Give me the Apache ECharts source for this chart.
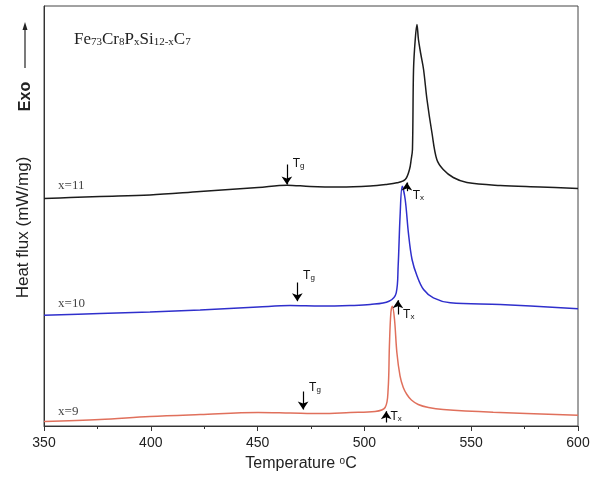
<!DOCTYPE html>
<html>
<head>
<meta charset="utf-8">
<script src="https://cdn.jsdelivr.net/npm/echarts@6/dist/echarts.min.js"></script>
<style>
html,body{margin:0;padding:0;background:#fff;}
#c{width:595px;height:479px;}
</style>
</head>
<body>
<div id="c"></div>
<script>
// ---- data (temperature °C, heat flux in arbitrary units) ----
const t11 = [350, 362.2, 376.2, 399.6, 423.1, 450.2, 463.8, 474.6, 488.6, 502.7, 510, 515.2, 519.1, 521.1, 521.9, 522.5, 523.0, 523.8, 524.6, 525.3, 526.4, 527.7, 529.3, 531.6, 533.9, 536.9, 541.6, 548.0, 563.6, 582.3, 600];
const f11 = [227.5, 228.5, 229.5, 231, 234.5, 238.5, 240.8, 239.5, 239, 240, 241.5, 243.2, 246.5, 256.5, 266.5, 276.5, 356.5, 386.5, 401.5, 386.5, 372, 356.5, 326.5, 293.5, 266.5, 256.5, 248.5, 243.5, 240.5, 239, 237.5];

const t10 = [350, 376.2, 399.6, 423.1, 450.2, 465.2, 479.7, 493.3, 502.7, 511.5, 514.9, 515.8, 516.7, 517.7, 519.1, 520.6, 522.3, 524.7, 527.7, 532.3, 540.2, 563.6, 600];
const f10 = [110.8, 112.5, 114, 116, 119, 120.5, 120, 120.5, 121.5, 124.8, 133.2, 159.8, 209.8, 239.8, 226.5, 193.2, 166.5, 149.8, 136.5, 128.2, 123.2, 121.5, 117.2];

const t9 = [350, 376.2, 399.6, 423.1, 450.2, 465.2, 479.7, 493.3, 505.0, 509.7, 511.1, 511.7, 512.4, 513.1, 514.1, 515.2, 516.7, 518.2, 519.9, 522.0, 525.2, 530.0, 536.9, 560.3, 600];
const f9 = [4.5, 6.5, 9.5, 11.5, 13.5, 13, 12.5, 13.5, 14.5, 18.5, 36.5, 79.5, 113.5, 119.8, 106.5, 73.5, 49.8, 38.5, 31.5, 26, 21.5, 18.5, 16.5, 13.8, 10.8];

const seriesNames = ['x=11', 'x=10', 'x=9'];
const seriesColors = ['#1c1c1c', '#2f2fcc', '#e0705c'];
const nameLabelPos = [[356.6, 240.5], [356.6, 122.5], [356.6, 14.5]];

// Tg arrows (pointing down) and Tx arrows (pointing up)
const tgTemp = [463.7, 468.6, 471.3];
const tgFrom = [261.5, 143.5, 34.5];
const tgTo = [241.5, 124.8, 16.5];
const tgLabel = [[466.4, 263.5], [471.3, 151.5], [474.1, 39.5]];

const txTemp = [519.9, 515.7, 510.2];
const txFrom = [234.8, 111.5, 3.5];
const txTo = [243.5, 125.8, 14.8];
const txLabel = [[522.6, 231.5], [518.1, 112.5], [512.2, 10.5]];

const xTicks = [350, 400, 450, 500, 550, 600];

const temps = [t11, t10, t9];
const fluxes = [f11, f10, f9];

const chart = echarts.init(document.getElementById('c'), null, {renderer: 'canvas'});

const subRich = {
  t: {fontFamily: 'Liberation Sans', fontSize: 12, color: '#111', lineHeight: 14, verticalAlign: 'bottom'},
  s: {fontFamily: 'Liberation Sans', fontSize: 8, color: '#111', lineHeight: 6, verticalAlign: 'bottom'}
};

const series = temps.map((ts, i) => ({
  type: 'line',
  name: seriesNames[i],
  data: ts.map((t, k) => [t, fluxes[i][k]]),
  showSymbol: false,
  smooth: 0.35,
  lineStyle: {color: seriesColors[i], width: 1.5},
  itemStyle: {color: seriesColors[i]},
  silent: true,
  z: 3,
  markLine: {
    silent: true,
    animation: false,
    symbol: ['none', 'arrow'],
    symbolSize: 8,
    label: {show: false},
    lineStyle: {type: 'solid', color: '#000', width: 1.2},
    data: [
      [{coord: [tgTemp[i], tgFrom[i]]}, {coord: [tgTemp[i], tgTo[i]]}],
      [{coord: [txTemp[i], txFrom[i]]}, {coord: [txTemp[i], txTo[i]]}]
    ]
  },
  markPoint: {
    silent: true,
    animation: false,
    symbol: 'circle',
    symbolSize: 0,
    data: [
      {coord: tgLabel[i], label: {show: true, position: 'right', distance: 0, formatter: '{t|T}{s|g}', rich: subRich}},
      {coord: txLabel[i], label: {show: true, position: 'right', distance: 0, formatter: '{t|T}{s|x}', rich: subRich}},
      {coord: nameLabelPos[i], label: {show: true, position: 'right', distance: 0, formatter: seriesNames[i],
        fontFamily: 'Liberation Serif', fontSize: 13, color: '#444'}}
    ]
  }
}));

chart.setOption({
  animation: false,
  backgroundColor: '#fff',
  title: {
    text: '{n|Fe}{s|73}{n|Cr}{s|8}{n|P}{s|x}{n|Si}{s|12-x}{n|C}{s|7}',
    left: 74,
    top: 28,
    padding: 0,
    textStyle: {
      fontWeight: 'normal',
      rich: {
        n: {fontFamily: 'Liberation Serif', fontSize: 17, fontWeight: 'normal', color: '#222', lineHeight: 20, verticalAlign: 'bottom'},
        s: {fontFamily: 'Liberation Serif', fontSize: 11, fontWeight: 'normal', color: '#222', lineHeight: 8, verticalAlign: 'bottom'}
      }
    }
  },
  grid: {left: 44, right: 17, top: 6, bottom: 53, show: true, borderColor: '#444', borderWidth: 1, containLabel: false},
  xAxis: {
    type: 'value',
    min: xTicks[0],
    max: xTicks[xTicks.length - 1],
    interval: 50,
    axisLine: {show: true, lineStyle: {color: '#333', width: 1}},
    axisTick: {show: true, inside: false, length: 5, lineStyle: {color: '#333'}},
    minorTick: {show: true, splitNumber: 2, length: 3, lineStyle: {color: '#333'}},
    splitLine: {show: false},
    axisLabel: {margin: 10, fontFamily: 'Liberation Sans', fontSize: 14, color: '#222'},
    name: '{n|Temperature }{o|o}{n|C}',
    nameLocation: 'middle',
    nameGap: 30,
    nameTextStyle: {
      padding: [0, 20, 0, 0],
      rich: {
        n: {fontFamily: 'Liberation Sans', fontSize: 16, color: '#222', lineHeight: 18, verticalAlign: 'top'},
        o: {fontFamily: 'Liberation Sans', fontSize: 10, color: '#222', lineHeight: 8, verticalAlign: 'top'}
      }
    }
  },
  yAxis: {
    type: 'value',
    min: 0,
    max: 420,
    axisLine: {show: true, lineStyle: {color: '#333', width: 1}},
    axisTick: {show: false},
    axisLabel: {show: false},
    splitLine: {show: false}
  },
  graphic: [
    {type: 'text', x: 23.5, y: 227.5, rotation: Math.PI / 2,
      style: {text: 'Heat flux (mW/mg)', fontFamily: 'Liberation Sans', fontSize: 17, fill: '#222', align: 'center', verticalAlign: 'middle'}},
    {type: 'text', x: 25.5, y: 96.5, rotation: Math.PI / 2,
      style: {text: 'Exo', fontFamily: 'Liberation Sans', fontSize: 16, fontWeight: 'bold', fill: '#222', align: 'center', verticalAlign: 'middle'}},
    {type: 'line', shape: {x1: 25, y1: 68, x2: 25, y2: 28}, style: {stroke: '#222', lineWidth: 1.2}},
    {type: 'polygon', shape: {points: [[25, 22], [22.5, 30], [27.5, 30]]}, style: {fill: '#222'}}
  ],
  series: series
});
</script>
</body>
</html>
